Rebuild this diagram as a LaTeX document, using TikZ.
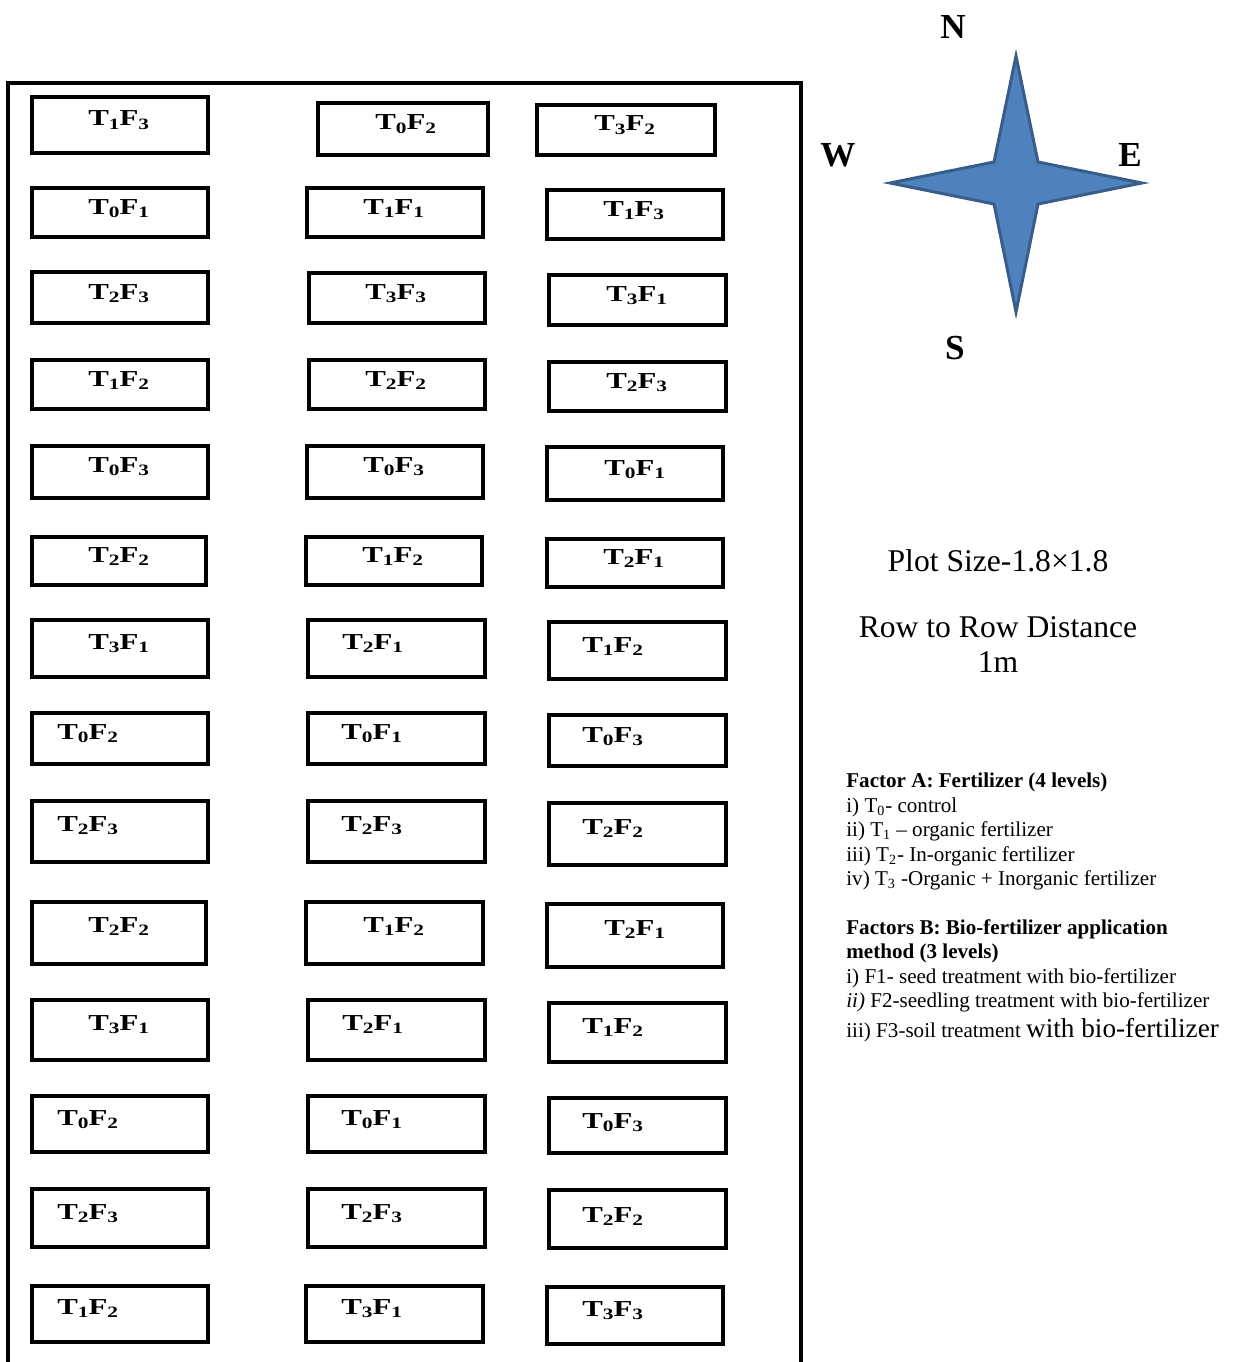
\documentclass[tikz,border=0pt]{standalone}
\usepackage{fontspec}
\setmainfont{Liberation Serif}
\newfontfamily\plotfont[FakeStretch=1.35]{Liberation Serif}
\usetikzlibrary{fit}

\definecolor{starblue}{HTML}{4F81BD}
\definecolor{starline}{HTML}{385D8A}
\newcommand{\lsub}[1]{\raisebox{-0.3ex}{\fontsize{9}{9}\selectfont #1}}

\begin{document}
\begin{tikzpicture}[x=0.02cm, y=-0.02cm,
    plotbox/.style={draw, line width=2.1pt, inner sep=0pt},
    plotlabel/.style={anchor=base west, inner sep=0pt, font=\plotfont\bfseries\fontsize{13}{13}\selectfont},
    compass/.style={font=\bfseries\fontsize{20}{20}\selectfont},
    note/.style={font=\fontsize{18}{20.4}\selectfont, align=center}
]
\useasboundingbox (0,0) rectangle (1235,1362);

% field boundary (open at the bottom)
\draw[line width=2.3pt] (8,1362) -- (8,83) -- (801,83) -- (801,1362);

% plots: name / corners / label position / T / F
\foreach \n/\xa/\ya/\xb/\yb/\lx/\ly/\t/\f in {
    a1/32/97/208/153/88/119/1/3, b1/318/103/488/155/375/123/0/2, c1/537/105/715/155/594/124/3/2,
    a2/32/188/208/237/88/207/0/1, b2/307/188/483/237/363/207/1/1, c2/547/190/723/239/603/209/1/3,
    a3/32/272/208/323/88/292/2/3, b3/309/273/485/323/365/292/3/3, c3/549/275/726/325/606/294/3/1,
    a4/32/360/208/409/88/379/1/2, b4/309/360/485/409/365/379/2/2, c4/549/362/726/411/606/381/2/3,
    a5/32/446/208/498/88/465/0/3, b5/307/446/483/498/363/465/0/3, c5/547/447/723/500/604/468/0/1,
    a6/32/537/206/585/88/555/2/2, b6/306/537/482/585/362/555/1/2, c6/547/539/723/587/603/557/2/1,
    a7/32/620/208/677/88/642/3/1, b7/308/620/485/677/342/642/2/1, c7/549/622/726/679/582/645/1/2,
    a8/32/713/208/764/57/732/0/2, b8/308/713/485/764/341/732/0/1, c8/549/715/726/766/582/735/0/3,
    a9/32/801/208/862/57/824/2/3, b9/308/801/485/862/341/824/2/3, c9/549/803/726/865/582/827/2/2,
    a10/32/902/206/964/88/925/2/2, b10/306/902/483/964/363/925/1/2, c10/547/904/723/967/604/928/2/1,
    a11/32/1000/208/1060/88/1023/3/1, b11/308/1000/485/1060/342/1023/2/1, c11/549/1003/726/1062/582/1026/1/2,
    a12/32/1096/208/1152/57/1118/0/2, b12/308/1096/485/1152/341/1118/0/1, c12/549/1098/726/1153/582/1121/0/3,
    a13/32/1189/208/1247/57/1212/2/3, b13/308/1189/485/1247/341/1212/2/3, c13/549/1190/726/1248/582/1215/2/2,
    a14/32/1286/208/1342/57/1307/1/2, b14/306/1286/483/1342/341/1307/3/1, c14/547/1287/723/1344/582/1309/3/3}
{
    \node[plotbox, fit={(\xa,\ya) (\xb,\yb)}] (\n) {};
    \node[plotlabel] (\n-lab) at (\lx,\ly+7) {T\lsub{\t}F\lsub{\f}};
}

% compass
\coordinate (star) at (1016,183);
\filldraw[fill=starblue, draw=starline, line width=1.7pt, line join=miter]
    (1016,56) -- (1038,162) -- (1142,183) -- (1038,204) -- (1016,312)
    -- (994,204) -- (890,183) -- (994,162) -- cycle;
\node[compass] (north) at (953,27) {N};
\node[compass] (west) at (838,155) {W};
\node[compass] (east) at (1130,155) {E};
\node[compass] (south) at (955,348) {S};

% notes
\node[note] (size) at (998,561) {Plot Size-1.8×1.8};
\node[note, anchor=north] (rows) at (998,610) {Row to Row Distance\\1m};

\node[anchor=north west, inner sep=0pt, align=left, font=\fontsize{12}{13.9}\selectfont] (factors) at (846,773) {%
\textbf{Factor A: Fertilizer (4 levels)}\\
i) T\textsubscript{0}- control\\
ii) T\textsubscript{1} – organic fertilizer\\
iii) T\textsubscript{2}- In-organic fertilizer\\
iv) T\textsubscript{3} -Organic + Inorganic fertilizer\\[13.9pt]
\textbf{Factors B: Bio-fertilizer application}\\
\textbf{method (3 levels)}\\
i) F1- seed treatment with bio-fertilizer\\
\textit{ii)} F2-seedling treatment with bio-fertilizer\\[3pt]
iii) F3-soil treatment {\fontsize{15.5}{16}\selectfont with bio-fertilizer}};
\end{tikzpicture}
\end{document}
